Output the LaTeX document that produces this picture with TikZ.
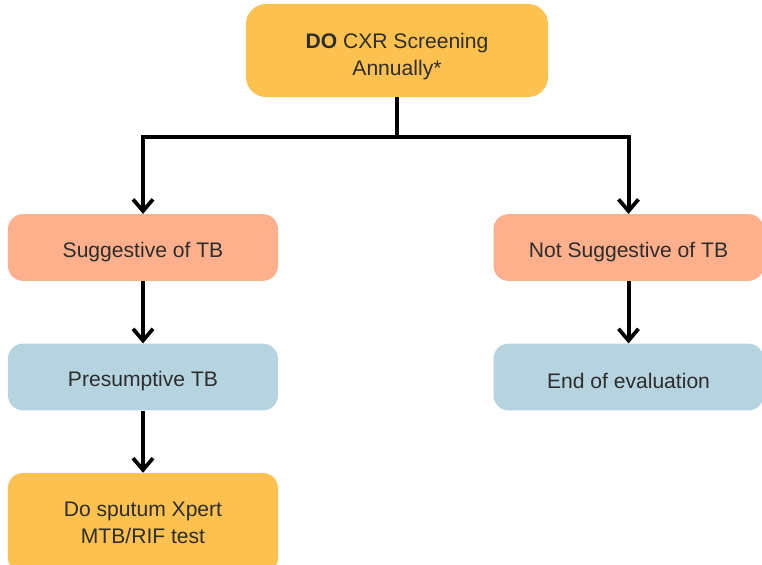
\documentclass[tikz,border=0pt]{standalone}
\usepackage{fontspec}
\setmainfont{Liberation Sans}
\usepackage{tikz}
\usetikzlibrary{arrows.meta, positioning}
\definecolor{boxyellow}{RGB}{253,193,80}
\definecolor{boxsalmon}{RGB}{253,176,139}
\definecolor{boxblue}{RGB}{182,212,224}
\definecolor{textgray}{RGB}{45,45,45}

\tikzset{
  stepnode/.style={rounded corners=0.45cm, inner sep=0pt, align=center,
    text=textgray, font=\fontsize{18}{23}\selectfont,
    minimum width=8.1cm, minimum height=2.0cm},
  yellowbox/.style={stepnode, fill=boxyellow},
  salmonbox/.style={stepnode, fill=boxsalmon},
  bluebox/.style={stepnode, fill=boxblue},
  flowarrow/.style={line width=3.4pt, -{Straight Barb[length=10pt, width=17pt, line width=3.2pt]}}
}
% strut that pushes the text a little lower in its box
\newcommand{\lowstrut}{\rule{0pt}{20pt}}

\begin{document}
\begin{tikzpicture}[x=0.03cm, y=-0.03cm]
        \useasboundingbox (0,0) rectangle (762,564);
        \clip (0,0) rectangle (762,564);

        % Screening
        \node[yellowbox, minimum width=9.06cm, minimum height=2.79cm, rounded corners=0.6cm] (cxr) at (397,50.5)
            {\rule{0pt}{24pt}\textbf{DO} CXR Screening\\Annually*};

        % Left branch
        \node[salmonbox] (sugg) at (143,247.5) {\lowstrut Suggestive of TB};
        \node[bluebox] (presum) at (143,377) {\lowstrut Presumptive TB};
        \node[yellowbox, minimum height=3.0cm] (xpert) at (143,523) {Do sputum Xpert\\MTB/RIF test};

        % Right branch
        \node[salmonbox] (notsugg) at (628.5,247.5) {\lowstrut Not Suggestive of TB};
        \node[bluebox] (endeval) at (628.5,377) {\lowstrut End of evaluation};

        % Connectors
        \draw[line width=3.4pt] (cxr.south) -- ++(0,40) coordinate (split);
        \draw[flowarrow] (split) -| (sugg.north);
        \draw[flowarrow] (split) -| (notsugg.north);
        \draw[flowarrow] (sugg) -- (presum);
        \draw[flowarrow] (presum) -- (xpert);
        \draw[flowarrow] (notsugg) -- (endeval);
\end{tikzpicture}
\end{document}
